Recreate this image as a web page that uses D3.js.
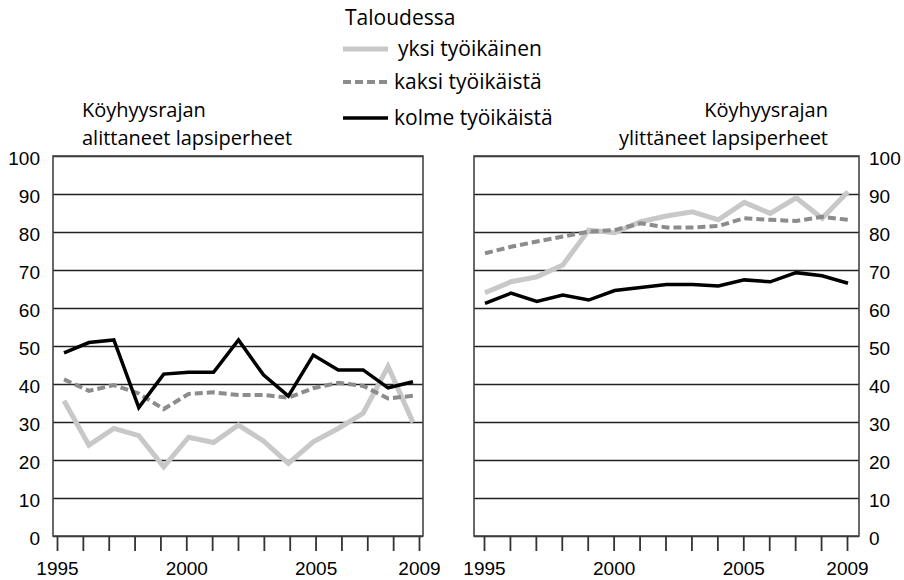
<!DOCTYPE html>
<html>
<head>
<meta charset="utf-8">
<script src="https://cdn.jsdelivr.net/npm/d3@7"></script>
<style>
  body { margin: 0; background: #fff; }
  svg { font-family: 'Open Sans', sans-serif; }
</style>
</head>
<body>
<svg id="chart"></svg>
<script>
const years = [1995, 1996, 1997, 1998, 1999, 2000, 2001, 2002, 2003, 2004, 2005, 2006, 2007, 2008, 2009];
const yearLabels = [1995, 2000, 2005, 2009];
const yTicks = [0, 10, 20, 30, 40, 50, 60, 70, 80, 90, 100];

// left panel: below poverty line
const belowOne = [35.6, 23.9, 28.3, 26.4, 18.2, 26.0, 24.6, 29.2, 25.0, 19.1, 24.8, 28.3, 32.3, 44.6, 29.9];
const belowTwo = [41.2, 38.2, 39.7, 37.5, 33.4, 37.4, 37.8, 37.1, 37.1, 36.4, 38.9, 40.3, 39.5, 36.2, 36.9];
const belowThree = [48.2, 50.9, 51.6, 33.8, 42.6, 43.1, 43.1, 51.6, 42.4, 36.8, 47.6, 43.7, 43.7, 39.0, 40.6];

// right panel: above poverty line
const aboveOne = [64.0, 66.9, 68.2, 71.3, 80.5, 79.8, 82.7, 84.2, 85.3, 83.2, 87.8, 84.9, 89.0, 83.6, 90.6];
const aboveTwo = [74.4, 76.1, 77.5, 78.8, 80.1, 80.5, 82.3, 81.2, 81.2, 81.6, 83.6, 83.2, 82.9, 84.0, 83.2];
const aboveThree = [61.2, 63.9, 61.7, 63.4, 62.1, 64.6, 65.4, 66.2, 66.2, 65.8, 67.4, 66.9, 69.3, 68.5, 66.5];

const seriesNames = ["yksi työikäinen", "kaksi työikäistä", "kolme työikäistä"];

const styles = [
    { color: "#c8c8c8", width: 5, dash: null },
    { color: "#8c8c8c", width: 4, dash: "8,4" },
    { color: "#000000", width: 3.5, dash: null }
];

const w = 904, h = 580;
const svg = d3.select("#chart").attr("width", w).attr("height", h);

const plotTop = 156, plotBottom = 536;
const y = d3.scaleLinear().domain([0, 100]).range([plotBottom, plotTop]);

const panels = [
    {
        left: 53, right: 423,
        dataRange: [64, 413], tickRange: [57, 419],
        series: [belowOne, belowTwo, belowThree],
        title: ["Köyhyysrajan", "alittaneet lapsiperheet"],
        titleX: 82, anchor: "start", side: "left"
    },
    {
        left: 474, right: 859,
        dataRange: [485, 848], tickRange: [484, 847],
        series: [aboveOne, aboveTwo, aboveThree],
        title: ["Köyhyysrajan", "ylittäneet lapsiperheet"],
        titleX: 828, anchor: "end", side: "right"
    }
];

panels.forEach(p => {
    const g = svg.append("g");
    const pw = p.right - p.left;

    // gridlines + y labels
    let yAxis;
    if (p.side === "left") {
        yAxis = d3.axisLeft(y).tickValues(yTicks).tickSize(-pw).tickPadding(13);
        g.append("g").attr("transform", `translate(${p.left},0)`).call(yAxis)
            .call(a => a.select(".domain").remove());
    } else {
        yAxis = d3.axisRight(y).tickValues(yTicks).tickSize(-pw).tickPadding(10);
        g.append("g").attr("transform", `translate(${p.right},0)`).call(yAxis)
            .call(a => a.select(".domain").remove());
    }
    g.selectAll(".tick line").attr("stroke", "#222").attr("stroke-width", 1.3);
    g.selectAll(".tick text")
        .attr("fill", "#000")
        .style("font-size", "19px")
        .attr("dy", "0.45em");

    // frame
    g.append("rect")
        .attr("x", p.left).attr("y", plotTop)
        .attr("width", pw).attr("height", plotBottom - plotTop)
        .attr("fill", "none").attr("stroke", "#444").attr("stroke-width", 1.6);

    // x axis ticks
    const xTick = d3.scaleLinear().domain([years[0], years[years.length - 1]]).range(p.tickRange);
    const xAxis = d3.axisBottom(xTick).tickValues(years).tickSize(15).tickPadding(11)
        .tickFormat(d => yearLabels.includes(d) ? d : "");
    g.append("g").attr("transform", `translate(0,${plotBottom})`).call(xAxis)
        .call(a => a.select(".domain").remove())
        .call(a => a.selectAll("line").attr("stroke", "#333").attr("stroke-width", 1.8))
        .call(a => a.selectAll("text").attr("fill", "#000").style("font-size", "19px"));

    // lines
    const x = d3.scaleLinear().domain([years[0], years[years.length - 1]]).range(p.dataRange);
    const line = d3.line().x((d, i) => x(years[i])).y(d => y(d));
    p.series.forEach((s, k) => {
        g.append("path")
            .datum(s)
            .attr("d", line)
            .attr("fill", "none")
            .attr("stroke", styles[k].color)
            .attr("stroke-width", styles[k].width)
            .attr("stroke-linejoin", "miter")
            .attr("stroke-dasharray", styles[k].dash);
    });

    // title
    g.append("text")
        .attr("x", p.titleX).attr("y", 117)
        .attr("text-anchor", p.anchor)
        .style("font-size", "20px")
        .text(p.title[0]);
    g.append("text")
        .attr("x", p.titleX).attr("y", 144.5)
        .attr("text-anchor", p.anchor)
        .style("font-size", "20px")
        .text(p.title[1]);
});

// legend
const legend = svg.append("g");
legend.append("text")
    .attr("x", 345).attr("y", 25)
    .style("font-size", "21px")
    .text("Taloudessa");

const legendY = [49, 82, 118];
seriesNames.forEach((name, k) => {
    legend.append("line")
        .attr("x1", 343).attr("x2", 388)
        .attr("y1", legendY[k]).attr("y2", legendY[k])
        .attr("stroke", styles[k].color)
        .attr("stroke-width", styles[k].width)
        .attr("stroke-dasharray", styles[k].dash);
    legend.append("text")
        .attr("x", k === 0 ? 398 : 394)
        .attr("y", legendY[k] + 7)
        .style("font-size", "21px")
        .text(name);
});
</script>
</body>
</html>
